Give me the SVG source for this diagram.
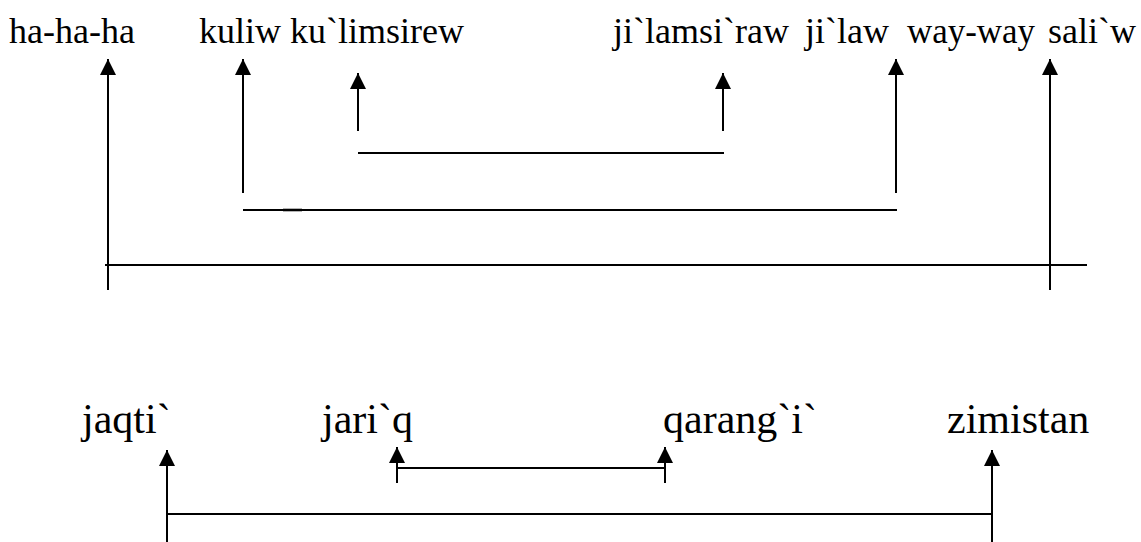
<svg xmlns="http://www.w3.org/2000/svg" width="1141" height="542" viewBox="0 0 1141 542">
<style>
text{font-family:"Liberation Serif","Times New Roman",serif;fill:#000}
.top{font-size:36px}
.bot{font-size:42px}
.c line{stroke:#000;stroke-width:2;fill:none}
</style>
<defs>
<marker id="ah" markerWidth="16" markerHeight="16" viewBox="0 0 16 16" refX="16" refY="8" orient="auto" markerUnits="userSpaceOnUse">
<path d="M0,0 L16,8 L0,16 Z" fill="#000"/>
</marker>
</defs>
<rect width="1141" height="542" fill="#fff"/>
<g id="n-hahaha"><text class="top" x="9" y="43">ha-ha-ha</text></g>
<g id="n-kuliw"><text class="top" x="199" y="43">kuliw</text></g>
<g id="n-kulimsirew"><text class="top" x="290" y="43">ku`limsirew</text></g>
<g id="n-jilamsiraw"><text class="top" x="613" y="43">ji`lamsi`raw</text></g>
<g id="n-jilaw"><text class="top" x="805" y="43">ji`law</text></g>
<g id="n-wayway"><text class="top" x="907" y="43" textLength="128" lengthAdjust="spacingAndGlyphs">way-way</text></g>
<g id="n-saliw"><text class="top" x="1048" y="43">sali`w</text></g>
<g id="n-jaqti"><text class="bot" x="82" y="433">jaqti`</text></g>
<g id="n-jariq"><text class="bot" x="322" y="433">jari`q</text></g>
<g id="n-qarangi"><text class="bot" x="663" y="433">qarang`i`</text></g>
<g id="n-zimistan"><text class="bot" x="947" y="433">zimistan</text></g>
<g id="connectors" class="c">
<line x1="108" y1="290" x2="108" y2="59" marker-end="url(#ah)"/>
<line x1="1050" y1="290" x2="1050" y2="59" marker-end="url(#ah)"/>
<line x1="105" y1="265" x2="1087" y2="265"/>
<line x1="243" y1="193" x2="243" y2="59" marker-end="url(#ah)"/>
<line x1="896" y1="193" x2="896" y2="59" marker-end="url(#ah)"/>
<line x1="243" y1="210" x2="897" y2="210"/>
<line x1="283" y1="210" x2="302" y2="210" style="stroke-width:2.6"/>
<line x1="358" y1="131" x2="358" y2="73" marker-end="url(#ah)"/>
<line x1="723" y1="131" x2="723" y2="73" marker-end="url(#ah)"/>
<line x1="358" y1="153" x2="724" y2="153"/>
<line x1="167" y1="542" x2="167" y2="450" marker-end="url(#ah)"/>
<line x1="992" y1="542" x2="992" y2="450" marker-end="url(#ah)"/>
<line x1="167" y1="514" x2="992" y2="514"/>
<line x1="397" y1="483" x2="397" y2="447" marker-end="url(#ah)"/>
<line x1="665" y1="483" x2="665" y2="447" marker-end="url(#ah)"/>
<line x1="397" y1="468" x2="665" y2="468"/>
</g>
</svg>
